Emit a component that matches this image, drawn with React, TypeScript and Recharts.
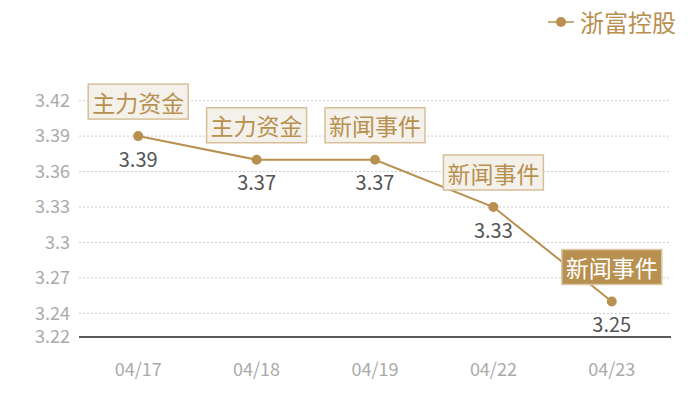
import React from "react";
import {
  ComposedChart,
  Line,
  XAxis,
  YAxis,
  CartesianGrid,
  LabelList,
} from "recharts";

const GOLD = "#b8904f";
const FONT = "'Noto Sans CJK SC', 'Noto Sans', sans-serif";

const dates = ["04/17", "04/18", "04/19", "04/22", "04/23"];
const prices = [3.39, 3.37, 3.37, 3.33, 3.25];
const tags = ["主力资金", "主力资金", "新闻事件", "新闻事件", "新闻事件"];
const highlighted = [false, false, false, false, true];
const yTicks = [3.22, 3.24, 3.27, 3.3, 3.33, 3.36, 3.39, 3.42];

const data = dates.map((date, i) => ({
  date,
  price: prices[i],
  tag: tags[i],
  hot: highlighted[i],
}));

function TagLabel(props: any) {
  const { x, y, index } = props;
  const hot = data[index].hot;
  const w = 100;
  const h = 35;
  return (
    <g>
      <rect
        x={x - w / 2}
        y={y - 17 - h}
        width={w}
        height={h}
        fill={hot ? GOLD : "#f4f0ea"}
        stroke={hot ? "#dcc8a6" : "#d6bf98"}
        strokeWidth={1.5}
      />
      <text
        x={x}
        y={y - 17 - h / 2}
        textAnchor="middle"
        dominantBaseline="central"
        fontSize={23}
        fontFamily={FONT}
        fill={hot ? "#fff" : GOLD}
      >
        {data[index].tag}
      </text>
    </g>
  );
}

function ValueLabel(props: any) {
  const { x, y, value } = props;
  return (
    <text
      x={x}
      y={y + 22}
      textAnchor="middle"
      dominantBaseline="central"
      fontSize={20}
      fontFamily={FONT}
      fill="#555"
    >
      {value}
    </text>
  );
}

export default function App() {
  return (
    <div style={{ position: "absolute", top: 0, left: 0, width: 700, height: 400, background: "#fff" }}>
      <div
        style={{
          position: "absolute",
          top: 4,
          right: 24,
          display: "flex",
          alignItems: "center",
          fontFamily: FONT,
          zIndex: 2,
        }}
      >
        <svg width={26} height={12}>
          <line x1={0} y1={6} x2={26} y2={6} stroke={GOLD} strokeWidth={1.5} />
          <circle cx={13} cy={6} r={5} fill={GOLD} />
        </svg>
        <span style={{ marginLeft: 6, fontSize: 24, color: GOLD }}>浙富控股</span>
      </div>
      <ComposedChart
        width={700}
        height={400}
        data={data}
        margin={{ top: 77, right: 29, bottom: 0, left: 0 }}
      >
        <CartesianGrid
          vertical={false}
          stroke="#ccc"
          strokeDasharray="2 2"
          horizontalValues={yTicks.slice(1)}
        />
        <XAxis
          dataKey="date"
          scale="band"
          height={63}
          tickLine={false}
          axisLine={{ stroke: "#222", strokeWidth: 1.3 }}
          tickMargin={20}
          tick={{ fill: "#aaa", fontSize: 18, fontFamily: FONT }}
        />
        <YAxis
          width={79}
          domain={[3.22, 3.44]}
          ticks={yTicks}
          interval={0}
          axisLine={false}
          tickLine={false}
          tickMargin={3}
          tick={{ fill: "#aaa", fontSize: 18, fontFamily: FONT }}
        />
        <Line
          type="linear"
          dataKey="price"
          name="浙富控股"
          stroke={GOLD}
          strokeWidth={2}
          dot={{ r: 4, fill: GOLD, stroke: GOLD }}
          isAnimationActive={false}
        >
          <LabelList dataKey="price" content={ValueLabel} />
          <LabelList dataKey="tag" content={TagLabel} />
        </Line>
      </ComposedChart>
    </div>
  );
}
